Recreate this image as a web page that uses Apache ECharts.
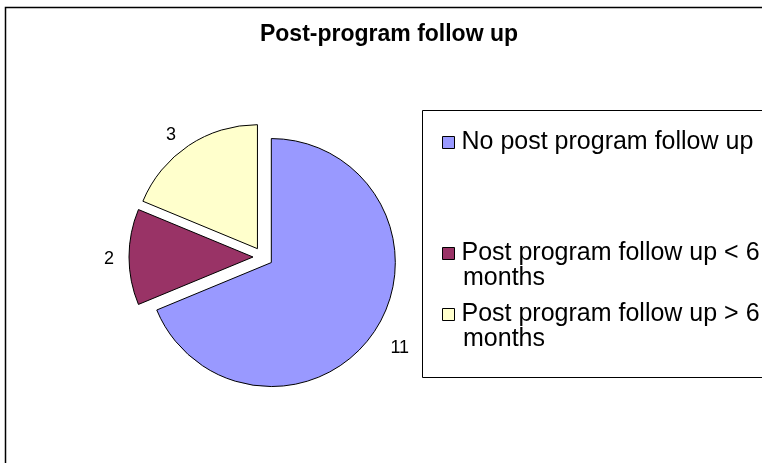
<!DOCTYPE html>
<html>
<head>
<meta charset="utf-8">
<script src="https://cdn.jsdelivr.net/npm/echarts@6/dist/echarts.min.js"></script>
<style>
html,body{margin:0;padding:0;background:#fff;}
#chart{width:762px;height:463px;}
</style>
</head>
<body>
<div id="chart"></div>
<script>
var titleText = 'Post-program follow up';
var categories = ['No post program follow up', 'Post program follow up < 6 months', 'Post program follow up > 6 months'];
var legendFirstLines = ['No post program follow up', 'Post program follow up < 6', 'Post program follow up > 6'];
var legendSecondLine = 'months';
var values = [11, 2, 3];
var colors = ['#9999FF', '#993366', '#FFFFCC'];

var FONT = 'Liberation Sans, Arial, sans-serif';
var chart = echarts.init(document.getElementById('chart'), null, {renderer: 'canvas'});

var pieData = categories.map(function (c, i) {
  return {name: c, value: values[i], selected: true, itemStyle: {color: colors[i]}};
});

var legendText = {fontFamily: FONT, fontSize: 25, color: '#000', padding: [0, 0, 0, 2]};

var option = {
  animation: false,
  color: colors,
  title: {
    text: titleText,
    left: 384, textAlign: 'center', top: 18,
    textStyle: {fontFamily: FONT, fontSize: 23, fontWeight: 'bold', color: '#000'}
  },
  graphic: [
    {type: 'rect', shape: {x: 5.5, y: 7.5, width: 900, height: 600}, style: {fill: 'none', stroke: '#000', lineWidth: 1.5}, z: -10},
    {type: 'rect', shape: {x: 422.5, y: 110.5, width: 500, height: 267}, style: {fill: '#fff', stroke: '#000', lineWidth: 1}, z: -5},
    {type: 'text', x: 463, y: 278, style: {text: legendSecondLine, font: '25px ' + FONT, fill: '#000', textVerticalAlign: 'middle'}},
    {type: 'text', x: 463, y: 339, style: {text: legendSecondLine, font: '25px ' + FONT, fill: '#000', textVerticalAlign: 'middle'}}
  ],
  legend: [
    {
      data: [categories[0]], orient: 'vertical', left: 437, top: 125,
      icon: 'rect', itemWidth: 12, itemHeight: 12, itemGap: 10,
      itemStyle: {borderColor: '#000', borderWidth: 1},
      selectedMode: false,
      formatter: function (n) { return legendFirstLines[categories.indexOf(n)]; },
      textStyle: legendText
    },
    {
      data: [categories[1], categories[2]], orient: 'vertical', left: 437, top: 236,
      icon: 'rect', itemWidth: 12, itemHeight: 12, itemGap: 36,
      itemStyle: {borderColor: '#000', borderWidth: 1},
      selectedMode: false,
      formatter: function (n) { return legendFirstLines[categories.indexOf(n)]; },
      textStyle: legendText
    }
  ],
  series: [{
    type: 'pie',
    center: [263, 257],
    radius: 124,
    startAngle: 90,
    clockwise: true,
    selectedMode: 'multiple',
    selectedOffset: 10,
    emphasis: {disabled: true},
    itemStyle: {borderColor: '#000', borderWidth: 1},
    label: {
      show: true, position: 'outside', formatter: '{c}',
      fontFamily: FONT, fontSize: 18, color: '#000'
    },
    labelLine: {show: false, length: 12, length2: 0},
    labelLayout: function (p) {
      if (p.dataIndex === 0) return {dx: 1, dy: 10};
      if (p.dataIndex === 1) return {dx: 2, dy: 2};
      return {dx: -1, dy: -1};
    },
    data: pieData
  }]
};
chart.setOption(option);
</script>
</body>
</html>
